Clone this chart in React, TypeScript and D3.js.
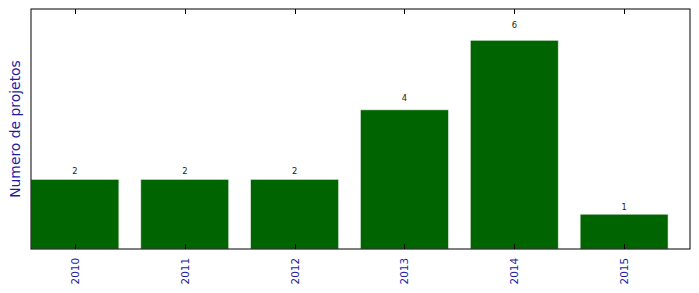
import React from "react";
import * as d3 from "d3";

const years = ["2010", "2011", "2012", "2013", "2014", "2015"];
const counts = [2, 2, 2, 4, 6, 1];
const yLabel = "Numero de projetos";

export default function App() {
  const W = 699, H = 293;
  const left = 31, right = 690, top = 9, bottom = 249;
  const x = d3.scaleLinear().domain([0, years.length]).range([left, right]);
  const y = d3.scaleLinear().domain([0, d3.max(counts)! * 1.15]).range([bottom, top]);
  const bw = 0.8;
  const blue = "#1c1ca6";
  return (
    <svg width={W} height={H} style={{ position: "absolute", left: 0, top: 0 }} fontFamily="DejaVu Sans, sans-serif">
      <rect x={0} y={0} width={W} height={H} fill="white" />
      {counts.map((c, i) => (
        <g key={i}>
          <rect x={x(i)} y={y(c)} width={x(i + bw) - x(i)} height={y(0) - y(c)} fill="#006400" stroke="#d8e8d8" strokeWidth={0.6} />
          <text x={x(i + bw / 2)} y={y(c * 1.05) - 2} fontSize={8.3} textAnchor="middle" fill="#222">{c}</text>
        </g>
      ))}
      {years.map((yr, i) => {
        const tx = Math.round(x(i + bw / 2)) + 0.5;
        return (
          <g key={yr}>
            <line x1={tx} x2={tx} y1={top} y2={top + 5} stroke="black" strokeWidth={1} />
            <line x1={tx} x2={tx} y1={bottom} y2={bottom - 5} stroke="black" strokeWidth={1} />
            <text transform={`translate(${tx + 3},${bottom + 9}) rotate(-90)`} fontSize={10.4} textAnchor="end" fill={blue}>{yr}</text>
          </g>
        );
      })}
      <rect x={left} y={top} width={right - left} height={bottom - top} fill="none" stroke="black" strokeWidth={1} />
      <text transform={`translate(20,${(top + bottom) / 2}) rotate(-90)`} fontSize={13.9} textAnchor="middle" fill={blue}>{yLabel}</text>
    </svg>
  );
}
